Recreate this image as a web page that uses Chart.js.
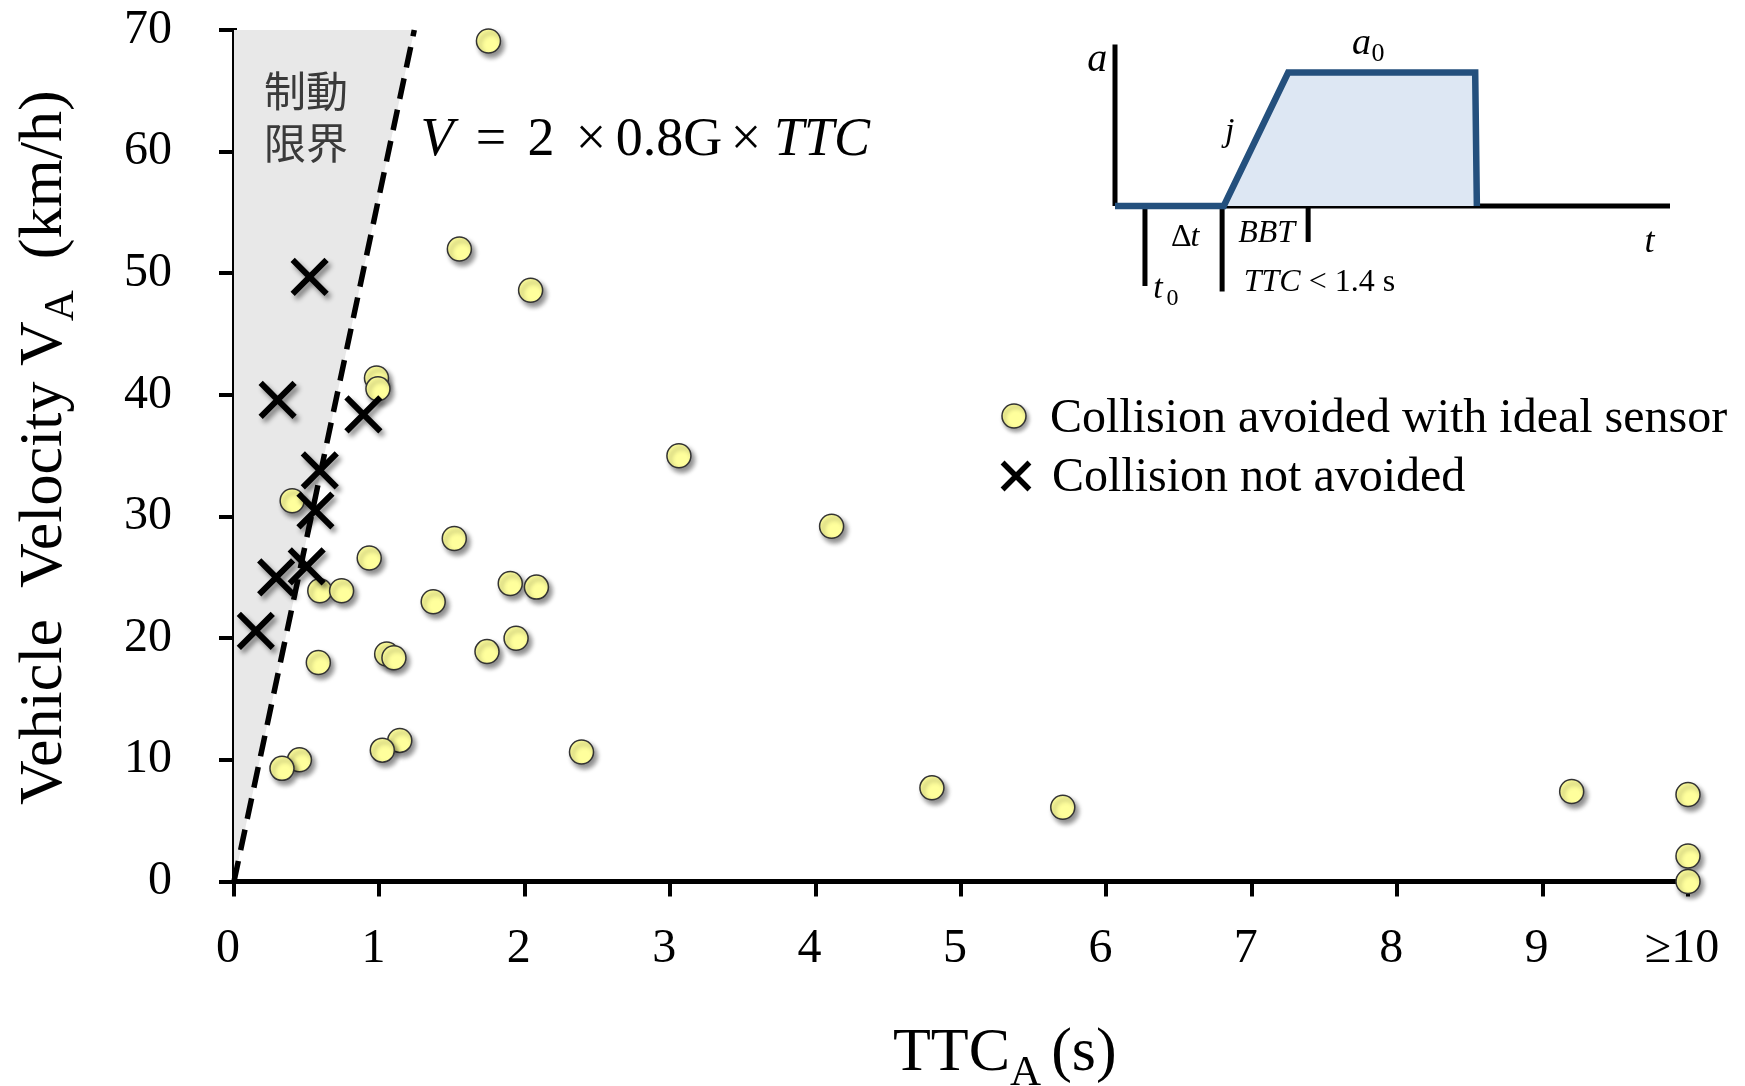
<!DOCTYPE html>
<html>
<head>
<meta charset="utf-8">
<script src="https://cdn.jsdelivr.net/npm/chart.js"></script>
<style>
  body { margin: 0; background: #fff; }
  #wrap { position: relative; width: 1745px; height: 1086px; }
  #main { position: absolute; left: 0; top: 0; }
  #inset { position: absolute; left: 1060px; top: 20px; }
</style>
</head>
<body>
<div id="wrap">
  <canvas id="main" width="1745" height="1086"></canvas>
  <canvas id="inset" width="660" height="320"></canvas>
</div>
<script>
// ------------------------------------------------------------
// data
// ------------------------------------------------------------
const avoidedTTC = [1.75, 1.55, 2.04, 0.98, 0.99, 3.06, 0.40, 4.11, 1.515, 0.93,
                    1.90, 2.08, 0.59, 0.74, 1.37, 1.94, 1.74, 1.05, 1.10, 0.58,
                    1.14, 1.02, 2.39, 0.45, 0.33, 4.80, 5.70, 9.20, 10, 10, 10];
const avoidedV   = [69.1, 52.0, 48.6, 41.4, 40.5, 35.0, 31.3, 29.2, 28.2, 26.6,
                    24.5, 24.2, 23.9, 23.9, 23.0, 20.0, 18.9, 18.7, 18.4, 18.0,
                    11.6, 10.8, 10.65, 10.0, 9.3, 7.7, 6.1, 7.4, 7.15, 2.1, 0];

const failedTTC = [0.52, 0.30, 0.89, 0.59, 0.56, 0.29, 0.50, 0.15];
const failedV   = [49.7, 39.6, 38.4, 33.8, 30.5, 25.0, 25.9, 20.6];

// braking limit line V = 2 x 0.8G x TTC
const limitTTC = [0, 1.24];
const limitV   = [0, 70];

const xTicks = [0, 1, 2, 3, 4, 5, 6, 7, 8, 9, 10];
const xTickLabels = ["0", "1", "2", "3", "4", "5", "6", "7", "8", "9", "\u226510"];
const yTicks = [0, 10, 20, 30, 40, 50, 60, 70];

// inset: deceleration profile (schematic units)
const profileT = [0, 1.96, 3.12, 6.49, 6.52];
const profileA = [0, 0, 1, 1, 0];
const tAxisEnd = 10;
const aAxisTop = 1.21;
const markT     = [0.54, 1.93, 3.48];
const markDepth = [-0.6, -0.64, -0.27];

const SERIF = "'Liberation Serif', 'Times New Roman', serif";
const zip = (xs, ys) => xs.map((x, i) => ({ x, y: ys[i] }));

// small helper for markers (legend)
function marker(ctx, style, x, y, r) {
  if (Chart.helpers && Chart.helpers.drawPoint) {
    Chart.helpers.drawPoint(ctx, { pointStyle: style, radius: r, rotation: 0, borderWidth: ctx.lineWidth }, x, y);
  }
}

// ============================================================
// shadows under the markers
// ============================================================
const shadowPlugin = {
  id: "shadow",
  beforeDatasetDraw(chart, args) {
    if (args.meta.type === "line") return;
    const ctx = chart.ctx;
    ctx.save();
    ctx.shadowColor = "rgba(0,0,0,0.45)";
    ctx.shadowBlur = 5;
    ctx.shadowOffsetX = 3;
    ctx.shadowOffsetY = 4;
  },
  afterDatasetDraw(chart, args) {
    if (args.meta.type === "line") return;
    chart.ctx.restore();
  }
};

// ============================================================
// titles, legend, formula, japanese label
// ============================================================
const textPlugin = {
  id: "texts",
  afterDraw(chart) {
    const ctx = chart.ctx;
    ctx.save();
    ctx.fillStyle = "#000";
    ctx.textBaseline = "alphabetic";
    ctx.textAlign = "left";

    let x = 0;
    const seg = (txt, font, dy) => {
      ctx.font = font;
      ctx.fillText(txt, x, dy);
      x += ctx.measureText(txt).width;
    };

    // y axis title
    ctx.save();
    ctx.translate(61, 805);
    ctx.rotate(-Math.PI / 2);
    x = 0;
    seg("Vehicle  Velocity V", `62px ${SERIF}`, 0);
    seg("A", `43px ${SERIF}`, 12);
    seg("  (km/h)", `62px ${SERIF}`, 0);
    ctx.restore();

    // x axis title
    ctx.save();
    ctx.translate(893, 1070);
    x = 0;
    seg("TTC", `62px ${SERIF}`, 0);
    seg("A", `43px ${SERIF}`, 15);
    x += 10;
    seg("(s)", `62px ${SERIF}`, 0);
    ctx.restore();

    // formula, each token centred on its slot
    const fy = 155;
    ctx.textAlign = "center";
    ctx.font = `italic 54px ${SERIF}`;
    ctx.fillText("V", 437, fy);
    ctx.font = `54px ${SERIF}`;
    ctx.fillText("=", 491, fy);
    ctx.fillText("2", 541, fy);
    ctx.fillText("\u00d7", 591, fy);
    ctx.fillText("0.8G", 669, fy);
    ctx.fillText("\u00d7", 746, fy);
    ctx.font = `italic 54px ${SERIF}`;
    ctx.fillText("TTC", 822, fy);

    // 制動限界
    ctx.fillStyle = "#3a3a3a";
    ctx.font = "42px 'Noto Sans CJK JP', sans-serif";
    ctx.fillText("制動", 306, 107);
    ctx.fillText("限界", 306, 159);

    // legend
    const ds = chart.data.datasets;
    ctx.textAlign = "left";
    ctx.fillStyle = "#000";
    ctx.font = `48px ${SERIF}`;
    ctx.fillText(ds[0].label, 1050, 432);
    ctx.fillText(ds[1].label, 1052, 491);

    ctx.save();
    ctx.shadowColor = "rgba(0,0,0,0.4)";
    ctx.shadowBlur = 4;
    ctx.shadowOffsetX = 2;
    ctx.shadowOffsetY = 3;
    ctx.fillStyle = ds[0].backgroundColor;
    ctx.strokeStyle = ds[0].borderColor;
    ctx.lineWidth = 1.5;
    marker(ctx, "circle", 1014, 416, 12);
    ctx.restore();
    ctx.strokeStyle = "#000";
    ctx.lineWidth = 5.5;
    marker(ctx, "crossRot", 1016, 476, 19);

    ctx.restore();
  }
};

new Chart(document.getElementById("main"), {
  type: "scatter",
  data: {
    datasets: [
      {
        label: "Collision avoided with ideal sensor",
        data: zip(avoidedTTC, avoidedV),
        pointStyle: "circle",
        pointRadius: 12,
        backgroundColor: "#ffff9c",
        borderColor: "#333",
        borderWidth: 1.5,
        clip: false,
        order: 1
      },
      {
        label: "Collision not avoided",
        data: zip(failedTTC, failedV),
        pointStyle: "crossRot",
        pointRadius: 24,
        borderColor: "#000",
        backgroundColor: "#000",
        borderWidth: 6,
        clip: false,
        order: 0
      },
      {
        type: "line",
        label: "limit",
        data: zip(limitTTC, limitV),
        borderColor: "#000",
        borderWidth: 5.5,
        borderDash: [21, 11],
        backgroundColor: "#e8e8e8",
        fill: "end",
        pointRadius: 0,
        tension: 0,
        clip: false,
        order: 2
      }
    ]
  },
  options: {
    responsive: false,
    animation: false,
    devicePixelRatio: 1,
    events: [],
    layout: { padding: { top: 28, right: 57, left: 0, bottom: 0 } },
    plugins: { legend: { display: false }, tooltip: { enabled: false } },
    scales: {
      x: {
        type: "linear",
        min: 0,
        max: 10,
        afterBuildTicks: s => { s.ticks = xTicks.map(v => ({ value: v })); },
        afterFit: s => { s.height = 204.5; s.paddingLeft = 0; s.paddingRight = 0; },
        ticks: {
          callback: (v, i) => xTickLabels[i],
          font: { family: SERIF, size: 48, lineHeight: 1.2 },
          color: "#000",
          padding: 24,
          labelOffset: -6,
          maxRotation: 0,
          autoSkip: false
        },
        grid: { drawOnChartArea: false, drawTicks: true, tickLength: 15, lineWidth: 4, color: "#000" },
        border: { display: true, width: 5, color: "#000" }
      },
      y: {
        type: "linear",
        min: 0,
        max: 70,
        afterBuildTicks: s => { s.ticks = yTicks.map(v => ({ value: v })); },
        afterFit: s => { s.width = 234; s.paddingTop = 0; s.paddingBottom = 0; },
        ticks: {
          font: { family: SERIF, size: 48, lineHeight: 1.2 },
          color: "#000",
          padding: 47
        },
        grid: { drawOnChartArea: false, drawTicks: true, tickLength: 15, lineWidth: 4, color: "#000" },
        border: { display: true, width: 5, color: "#000" }
      }
    }
  },
  plugins: [shadowPlugin, textPlugin]
});

// ============================================================
// inset: a(t) schematic
// ============================================================
const insetText = {
  id: "insetText",
  afterDraw(chart) {
    const ctx = chart.ctx;
    const px = t => chart.scales.x.getPixelForValue(t);
    const py = a => chart.scales.y.getPixelForValue(a);
    ctx.save();
    ctx.fillStyle = "#000";
    ctx.textBaseline = "alphabetic";

    ctx.textAlign = "right";
    ctx.font = `italic 40px ${SERIF}`;
    ctx.fillText("a", px(-0.14), py(1.01));

    ctx.textAlign = "left";
    ctx.font = `italic 38px ${SERIF}`;
    ctx.fillText("a", px(4.27), py(1.14));
    ctx.font = `26px ${SERIF}`;
    ctx.fillText("0", px(4.62), py(1.09));

    ctx.font = `italic 34px ${SERIF}`;
    ctx.fillText("j", px(1.98), py(0.49));

    ctx.font = `32px ${SERIF}`;
    ctx.fillText("\u0394", px(1.01), py(-0.30));
    ctx.font = `italic 32px ${SERIF}`;
    ctx.fillText("t", px(1.36), py(-0.30));

    ctx.fillText("BBT", px(2.22), py(-0.27));

    ctx.font = `italic 36px ${SERIF}`;
    ctx.fillText("t", px(9.54), py(-0.345));

    ctx.font = `italic 34px ${SERIF}`;
    ctx.fillText("t", px(0.69), py(-0.69));
    ctx.font = `24px ${SERIF}`;
    ctx.fillText("0", px(0.93), py(-0.74));

    ctx.font = `italic 32px ${SERIF}`;
    ctx.fillText("TTC", px(2.32), py(-0.64));
    const w = ctx.measureText("TTC ").width;
    ctx.font = `32px ${SERIF}`;
    ctx.fillText("< 1.4 s", px(2.32) + w, py(-0.64));
    ctx.restore();
  }
};

const blackSeg = pts => ({
  data: pts,
  borderColor: "#000",
  borderWidth: 5,
  pointRadius: 0,
  clip: false,
  order: 1
});

new Chart(document.getElementById("inset"), {
  type: "line",
  data: {
    datasets: [
      {
        data: zip(profileT, profileA),
        borderColor: "#24507d",
        borderWidth: 6.5,
        backgroundColor: "#dde7f3",
        fill: "origin",
        pointRadius: 0,
        borderJoinStyle: "miter",
        clip: false,
        order: 0
      },
      blackSeg([{ x: 0, y: 0 }, { x: tAxisEnd, y: 0 }]),
      blackSeg([{ x: 0, y: 0 }, { x: 0, y: aAxisTop }]),
      ...markT.map((t, i) => blackSeg([{ x: t, y: 0 }, { x: t, y: markDepth[i] }]))
    ]
  },
  options: {
    responsive: false,
    animation: false,
    devicePixelRatio: 1,
    events: [],
    layout: { padding: { left: 55, right: 50, top: 24.6, bottom: 40.6 } },
    elements: { line: { tension: 0 } },
    plugins: { legend: { display: false }, tooltip: { enabled: false } },
    scales: {
      x: { type: "linear", min: 0, max: tAxisEnd, display: false },
      y: { type: "linear", min: -0.7, max: aAxisTop, display: false }
    }
  },
  plugins: [insetText]
});
</script>
</body>
</html>
